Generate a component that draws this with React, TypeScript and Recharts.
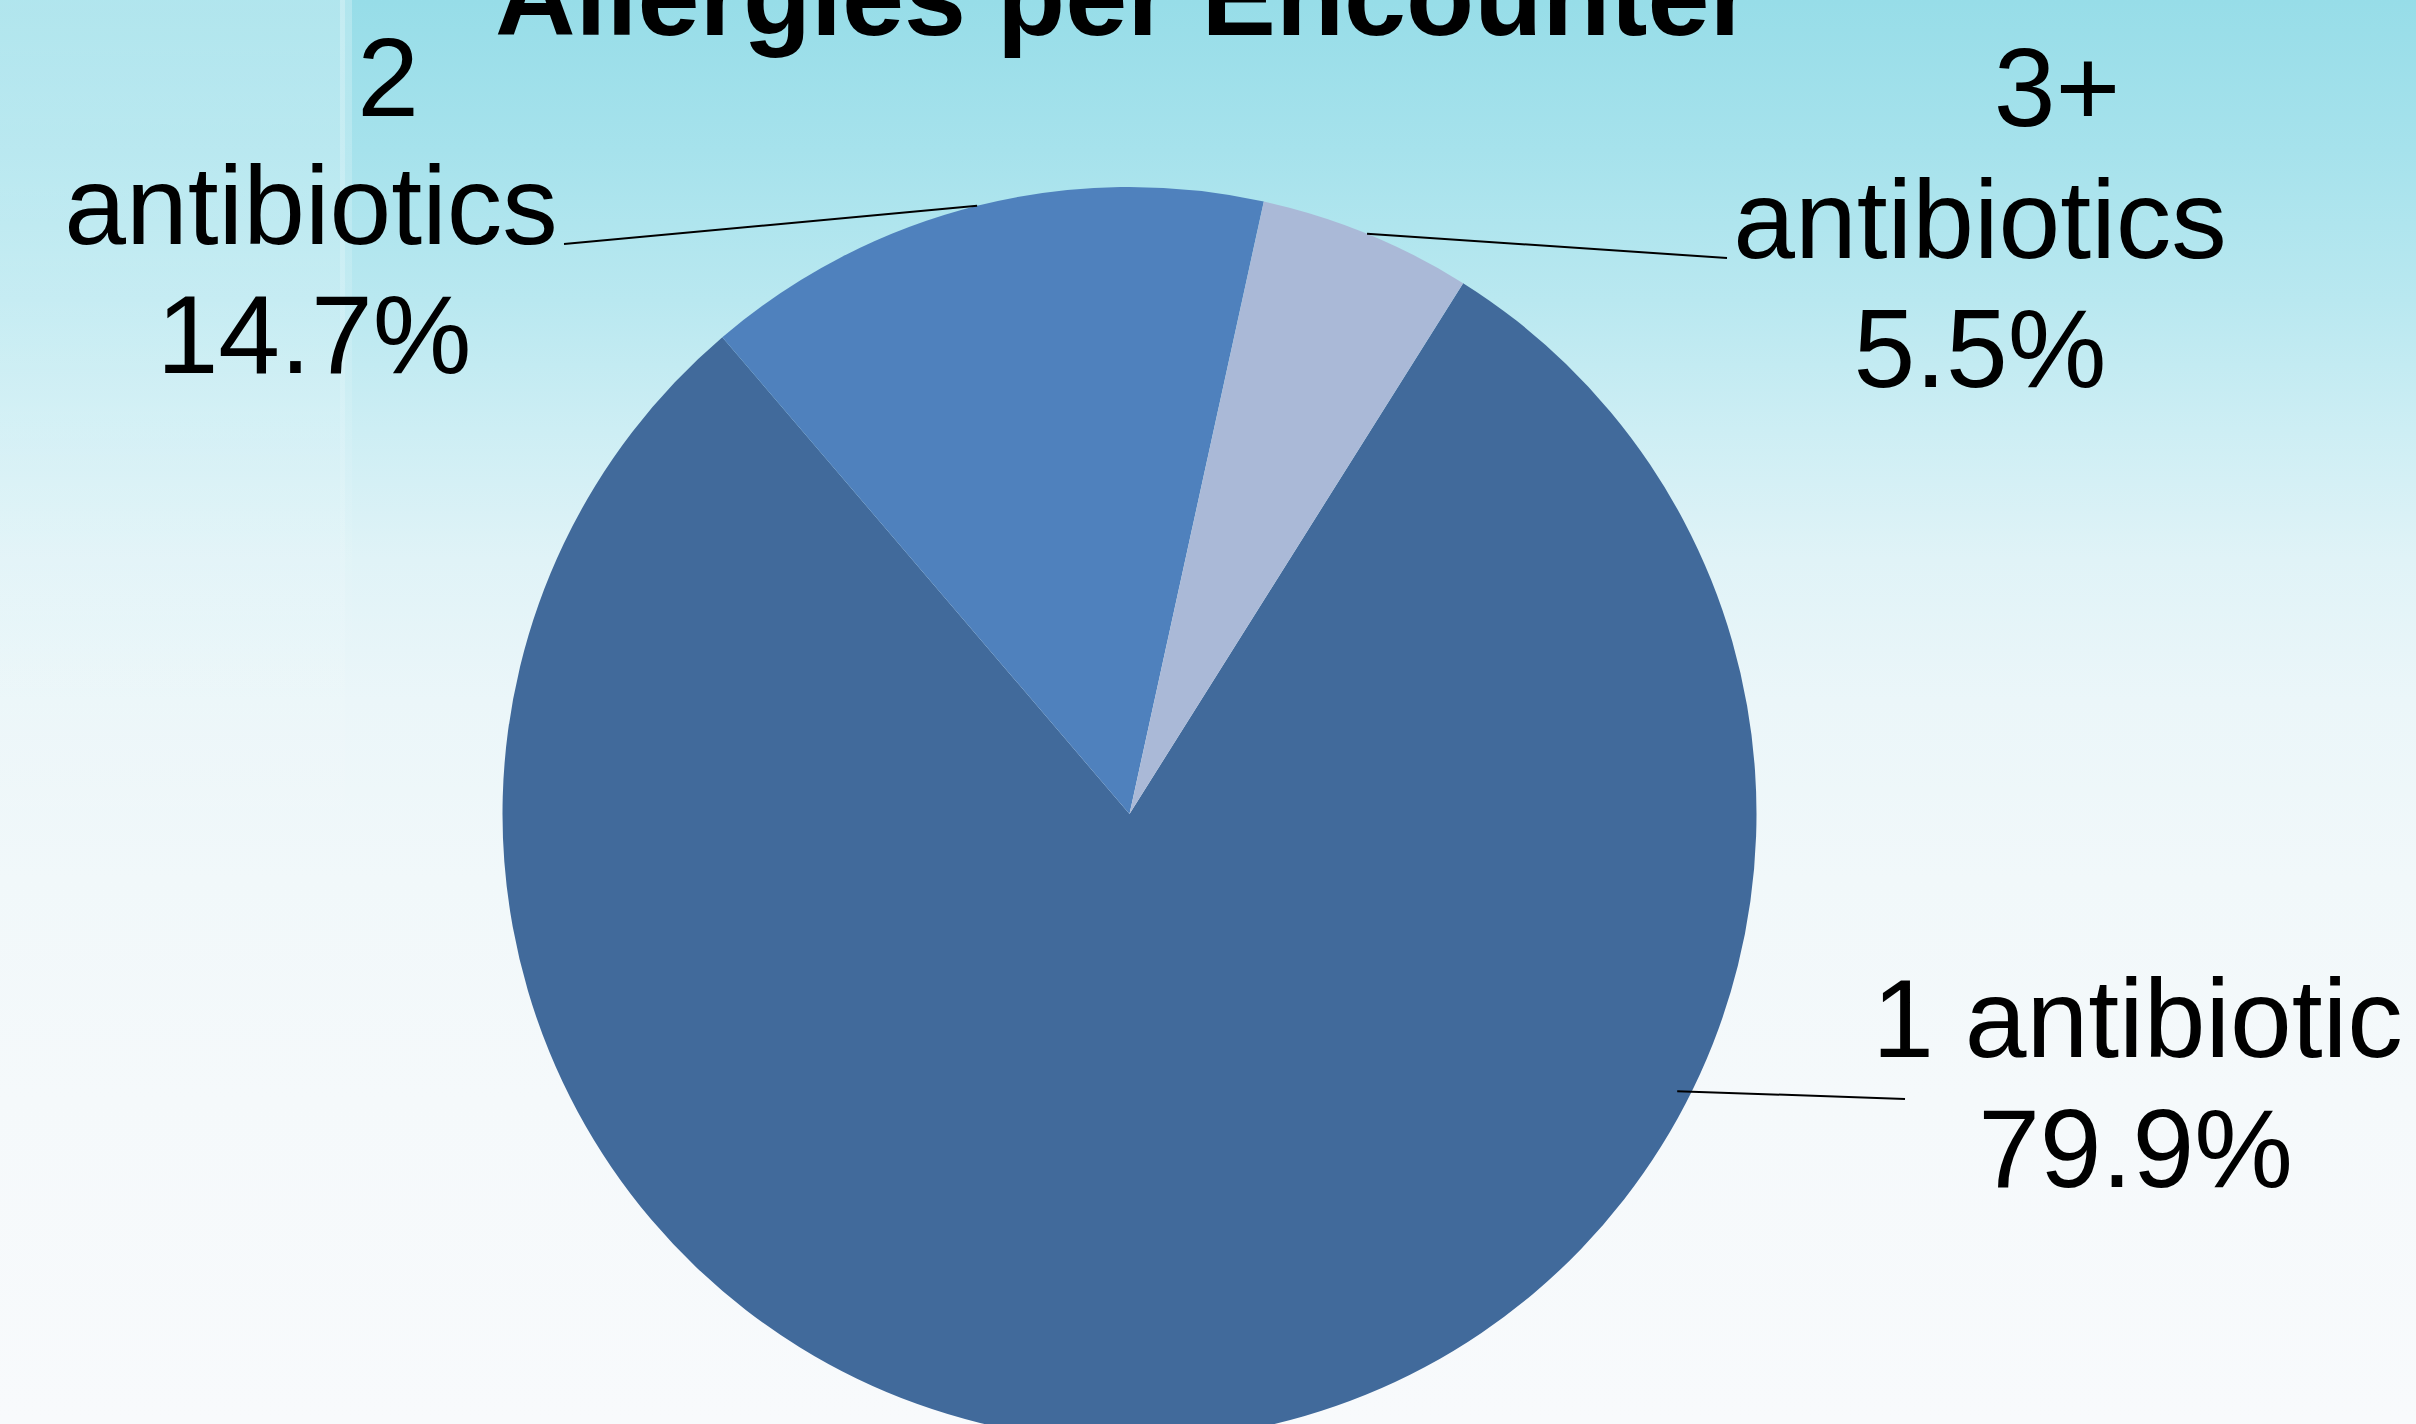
import React from "react";
import { PieChart, Pie, Cell } from "recharts";

// ---- data ----
const categories = ["1 antibiotic", "2 antibiotics", "3+ antibiotics"];
const shares = [79.9, 14.7, 5.5];
const sliceColors = ["#416A9B", "#4F81BD", "#AAB9D7"];
const chartTitle = "Allergies per Encounter";

const data = categories.map((name, i) => ({ name, value: shares[i] }));

// ---- layout (offsets from pie centre, px) ----
const W = 2416;
const H = 1424;
const CX = 1129.5;
const CY = 814;
const R = 627;
const START = 57.85;

type LabelLayout = {
  anchorAngle?: number;
  anchorR: number;
  end: [number, number];
  split: boolean;
  lines: [number, number][];
};

const labelLayout: LabelLayout[] = [
  { anchorAngle: -26.84, anchorR: 0.979, end: [775.5, 285], split: false, lines: [[1008, 243], [1006, 373]] },
  { anchorR: 1, end: [-565.5, -570], split: true, lines: [[-741.5, -698], [-818.5, -570], [-815.5, -441]] },
  { anchorR: 1, end: [597.5, -556], split: true, lines: [[927.5, -688], [850.5, -556], [850.5, -427]] },
];

const FONT = "'Liberation Sans', Arial, Helvetica, sans-serif";
const RAD = Math.PI / 180;

const renderLabel = (props: any) => {
  const { cx, cy, outerRadius, midAngle, index, name, value } = props;
  const lay = labelLayout[index];
  if (!lay) return null;
  const ang = lay.anchorAngle ?? midAngle;
  const sx = cx + outerRadius * lay.anchorR * Math.cos(-ang * RAD);
  const sy = cy + outerRadius * lay.anchorR * Math.sin(-ang * RAD);
  const ex = cx + lay.end[0];
  const ey = cy + lay.end[1];
  const nm: string = String(name);
  let texts: string[];
  if (lay.split) {
    const k = nm.indexOf(" ");
    texts = [nm.slice(0, k), nm.slice(k + 1)];
  } else {
    texts = [nm];
  }
  texts.push(`${Number(value).toFixed(1)}%`);
  return (
    <g key={`lbl-${index}`}>
      <line x1={sx} y1={sy} x2={ex} y2={ey} stroke="#000" strokeWidth={2} />
      {texts.map((t, j) => (
        <text
          key={j}
          x={cx + lay.lines[j][0]}
          y={cy + lay.lines[j][1]}
          textAnchor="middle"
          fontFamily={FONT}
          fontSize={111}
          fill="#000"
        >
          {t}
        </text>
      ))}
    </g>
  );
};

export default function App() {
  return (
    <div
      style={{
        position: "absolute",
        left: 0,
        top: 0,
        width: W,
        height: H,
        overflow: "hidden",
        background:
          "linear-gradient(180deg, #97DDE8 0px, #A6E2EC 150px, #B9E8F0 300px, #CDEEF4 430px, #E0F3F7 560px, #EBF6F9 700px, #F1F8FA 880px, #F5F9FB 1100px, #F8FAFC 1424px)",
      }}
    >
      <div
        style={{
          position: "absolute",
          left: 0,
          top: 0,
          width: 345,
          height: 900,
          background: "linear-gradient(180deg, rgba(255,255,255,0.25) 0px, rgba(255,255,255,0.17) 400px, rgba(255,255,255,0) 900px)",
        }}
      />
      <div
        style={{
          position: "absolute",
          left: 340,
          top: 0,
          width: 12,
          height: 700,
          background: "linear-gradient(180deg, rgba(255,255,255,0.25) 0px, rgba(255,255,255,0) 700px)",
        }}
      />
      <div style={{ position: "absolute", left: 0, top: 0 }}>
        <PieChart width={W} height={H} margin={{ top: 0, right: 0, bottom: 0, left: 0 }}>
          <text
            x={1124}
            y={35}
            textAnchor="middle"
            fontFamily={FONT}
            fontWeight="bold"
            fontSize={111.5}
            fill="#000"
          >
            {chartTitle}
          </text>
          <Pie
            data={data}
            dataKey="value"
            nameKey="name"
            cx={CX}
            cy={CY}
            outerRadius={R}
            startAngle={START}
            endAngle={START - 360}
            stroke="none"
            isAnimationActive={false}
            labelLine={false}
            label={renderLabel}
          >
            {data.map((d, i) => (
              <Cell key={d.name} fill={sliceColors[i]} />
            ))}
          </Pie>
        </PieChart>
      </div>
    </div>
  );
}
